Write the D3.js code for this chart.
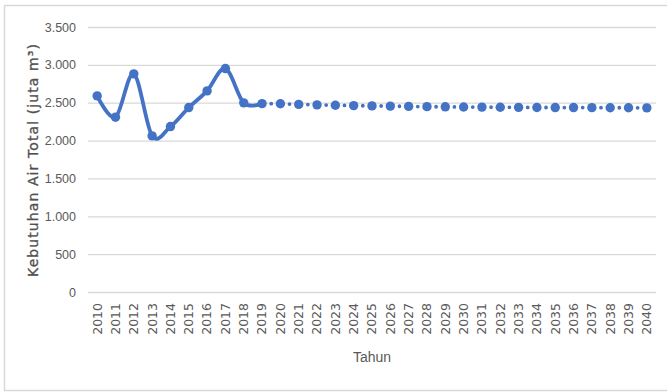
<!DOCTYPE html>
<html>
<head>
<meta charset="utf-8">
<script src="https://cdn.jsdelivr.net/npm/d3@7"></script>
<style>
  html, body { margin: 0; padding: 0; background: #fff; }
  svg { display: block; }
</style>
</head>
<body>
<svg id="chart" width="667" height="392"></svg>
<script>
// Years on the category axis
const years = d3.range(2010, 2041).map(String);
// Historical total water demand (solid line), 2010–2019
const historis = [2590, 2309, 2881, 2062, 2185, 2436, 2656, 2951, 2498, 2488];
// Projected demand (dotted line), 2019–2040
const proyeksi = [2488, 2486, 2478, 2472, 2466, 2462, 2458, 2455, 2451, 2448, 2446,
                  2444, 2442, 2440, 2439, 2437, 2436, 2436, 2435, 2434, 2433, 2432];
const yTicks = [0, 500, 1000, 1500, 2000, 2500, 3000, 3500];

const svg = d3.select("#chart");
const blue = "#4472c4";
const grey = "#595959";

// outer chart frame
svg.append("rect")
  .attr("x", 4.5).attr("y", 5.5).attr("width", 680).attr("height", 385)
  .attr("fill", "none").attr("stroke", "#d9d9d9").attr("stroke-width", 1.5);

const x = d3.scaleBand().domain(years).range([88, 656]);
const y = d3.scaleLinear().domain([0, 3500]).range([292, 27]);

// gridlines + y labels
const yAxis = d3.axisLeft(y).tickValues(yTicks).tickSize(-(656 - 88)).tickPadding(12)
  .tickFormat(d => d3.format(",")(d).replace(/,/g, "."));
const gy = svg.append("g").attr("transform", "translate(88,0)").call(yAxis);
gy.select(".domain").remove();
gy.selectAll(".tick line").attr("stroke", "#d9d9d9").attr("stroke-width", 1.3);
gy.selectAll(".tick text")
  .attr("fill", grey).attr("font-family", "Liberation Sans, Arial, sans-serif")
  .attr("font-size", "12.5px");

// x labels (rotated)
const xAxis = d3.axisBottom(x).tickSize(0).tickPadding(0);
const gx = svg.append("g").attr("transform", "translate(0,292)").call(xAxis);
gx.select(".domain").remove();
gx.selectAll(".tick text")
  .attr("fill", grey).attr("font-family", "DejaVu Sans, sans-serif")
  .attr("font-size", "12.5px")
  .attr("text-anchor", "end")
  .attr("transform", "translate(0,11) rotate(-90)")
  .attr("dx", 0).attr("dy", "0.35em").attr("y", 0).attr("x", 0);

// axis titles
svg.append("text")
  .attr("x", 372).attr("y", 362)
  .attr("text-anchor", "middle")
  .attr("fill", grey).attr("font-family", "Liberation Sans, Arial, sans-serif")
  .attr("font-size", "14px")
  .text("Tahun");

const yTitle = svg.append("text")
  .attr("transform", "translate(38,160) rotate(-90)")
  .attr("text-anchor", "middle")
  .attr("fill", "#505050").attr("font-family", "DejaVu Sans, sans-serif")
  .attr("font-size", "14px")
  .attr("stroke", "#505050").attr("stroke-width", 0.3)
  .text("Kebutuhan Air Total (juta m³)");
// spread the title so it spans the full plot height
const titleText = yTitle.text();
const titleLen = yTitle.node().getComputedTextLength();
yTitle.attr("letter-spacing", ((234 - titleLen) / titleText.length).toFixed(2) + "px");

const cx = d => x(d) + x.bandwidth() / 2;
const histData = historis.map((v, i) => ({ year: years[i], v }));
const projData = proyeksi.map((v, i) => ({ year: years[i + 9], v }));

// smoothed historical line
svg.append("path")
  .datum(histData)
  .attr("fill", "none").attr("stroke", blue).attr("stroke-width", 3.8)
  .attr("stroke-linejoin", "round").attr("stroke-linecap", "round")
  .attr("d", d3.line().x(d => cx(d.year)).y(d => y(d.v)).curve(d3.curveCardinal.tension(0)));

// dotted projection line
svg.append("path")
  .datum(projData)
  .attr("fill", "none").attr("stroke", blue).attr("stroke-width", 3.8)
  .attr("stroke-linecap", "round")
  .attr("stroke-dasharray", "0 " + (x.bandwidth() / 2))
  .attr("d", d3.line().x(d => cx(d.year)).y(d => y(d.v)));

// markers
const allPts = histData.concat(projData.slice(1));
svg.append("g").selectAll("circle").data(allPts).join("circle")
  .attr("cx", d => cx(d.year)).attr("cy", d => y(d.v))
  .attr("r", 4.7).attr("fill", blue);
</script>
</body>
</html>
